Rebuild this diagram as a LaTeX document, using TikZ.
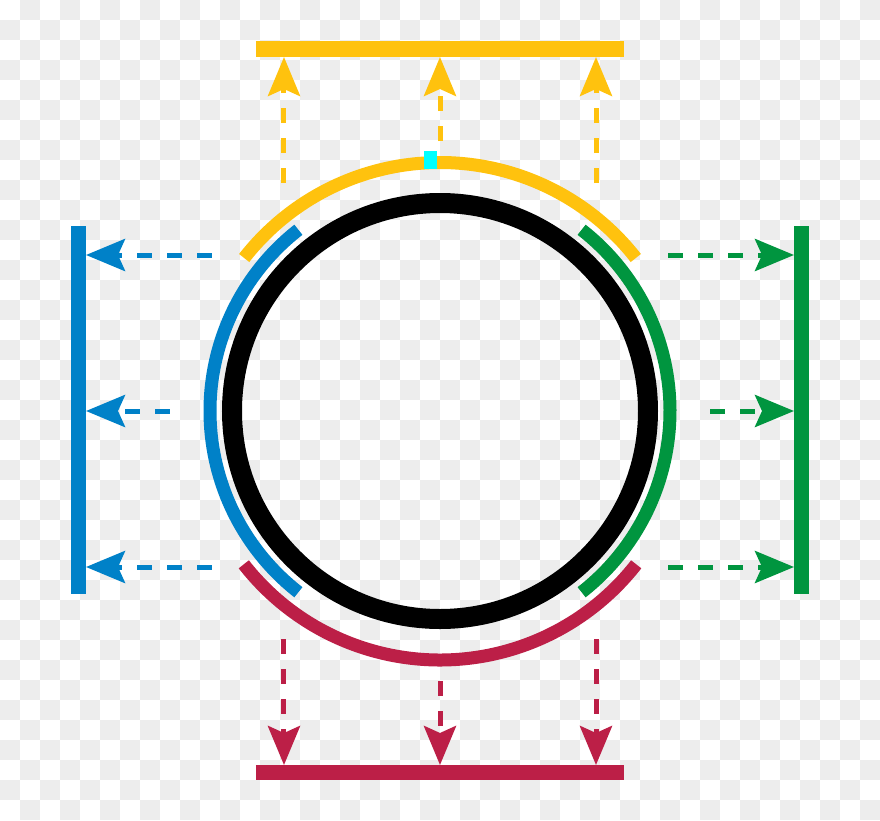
\documentclass[tikz,border=0pt]{standalone}
\usetikzlibrary{arrows.meta}
\definecolor{ringyellow}{HTML}{FFC20E}
\definecolor{ringblue}{HTML}{0081C8}
\definecolor{ringgreen}{HTML}{00953F}
\definecolor{ringred}{HTML}{BC1F47}
\definecolor{ringcyan}{HTML}{00FFFF}
\definecolor{checkgrey}{HTML}{EDEDED}
\begin{document}
\begin{tikzpicture}[x=1pt,y=1pt,
        bar/.style={line width=15pt},
        band/.style={line width=13pt},
        proj/.style={dash pattern=on 15pt off 15pt, line width=5pt,
            -{Stealth[length=39pt,width=32pt,inset=7pt]}}]
        \useasboundingbox (-440,-409) rectangle (440,411);
        % checkered background
        \foreach \i in {0,...,43} {
            \foreach \j in {0,...,40} {
                \pgfmathtruncatemacro\s{\i+\j}
                \ifodd\s
                    \fill[checkgrey] (-440+20*\i,411-20*\j) rectangle ++(20,-20);
                \fi
            }
        }
        % ring and the four bands round it
        \draw[line width=20pt] (0,0) circle[radius=208];
        \draw[band, ringyellow] (38:248.5) arc[start angle=38, end angle=142, radius=248.5];
        \draw[band, ringred] (218:249) arc[start angle=218, end angle=322, radius=249];
        \draw[band, ringblue] (128:230) arc[start angle=128, end angle=232, radius=230];
        \draw[band, ringgreen] (-52:230) arc[start angle=-52, end angle=52, radius=230];
        \fill[ringcyan] (-16,242) rectangle (-3,260);
        % screens
        \coordinate (topL) at (-184,362);
        \coordinate (topR) at (184,362);
        \coordinate (botL) at (-184,-361);
        \coordinate (botR) at (184,-361);
        \coordinate (lftT) at (-361.5,185);
        \coordinate (lftB) at (-361.5,-183);
        \coordinate (rgtT) at (361.5,185);
        \coordinate (rgtB) at (361.5,-183);
        \draw[bar, ringyellow] (topL) -- (topR);
        \draw[bar, ringred] (botL) -- (botR);
        \draw[bar, ringblue] (lftT) -- (lftB);
        \draw[bar, ringgreen] (rgtT) -- (rgtB);
        % projections
        \foreach \k/\s/\d in {1/-156/228, 2/0/270, 3/156/228} {
            \coordinate (yS\k) at (\s,\d);
            \coordinate (yE\k) at (\s,354);
            \coordinate (rS\k) at (\s,-\d);
            \coordinate (rE\k) at (\s,-354);
            \coordinate (bS\k) at (-\d,\s);
            \coordinate (bE\k) at (-354,\s);
            \coordinate (gS\k) at (\d,\s);
            \coordinate (gE\k) at (354,\s);
            \draw[proj, ringyellow] (yS\k) -- (yE\k);
            \draw[proj, ringred] (rS\k) -- (rE\k);
            \draw[proj, ringblue] (bS\k) -- (bE\k);
            \draw[proj, ringgreen] (gS\k) -- (gE\k);
        }
    \end{tikzpicture}
\end{document}
